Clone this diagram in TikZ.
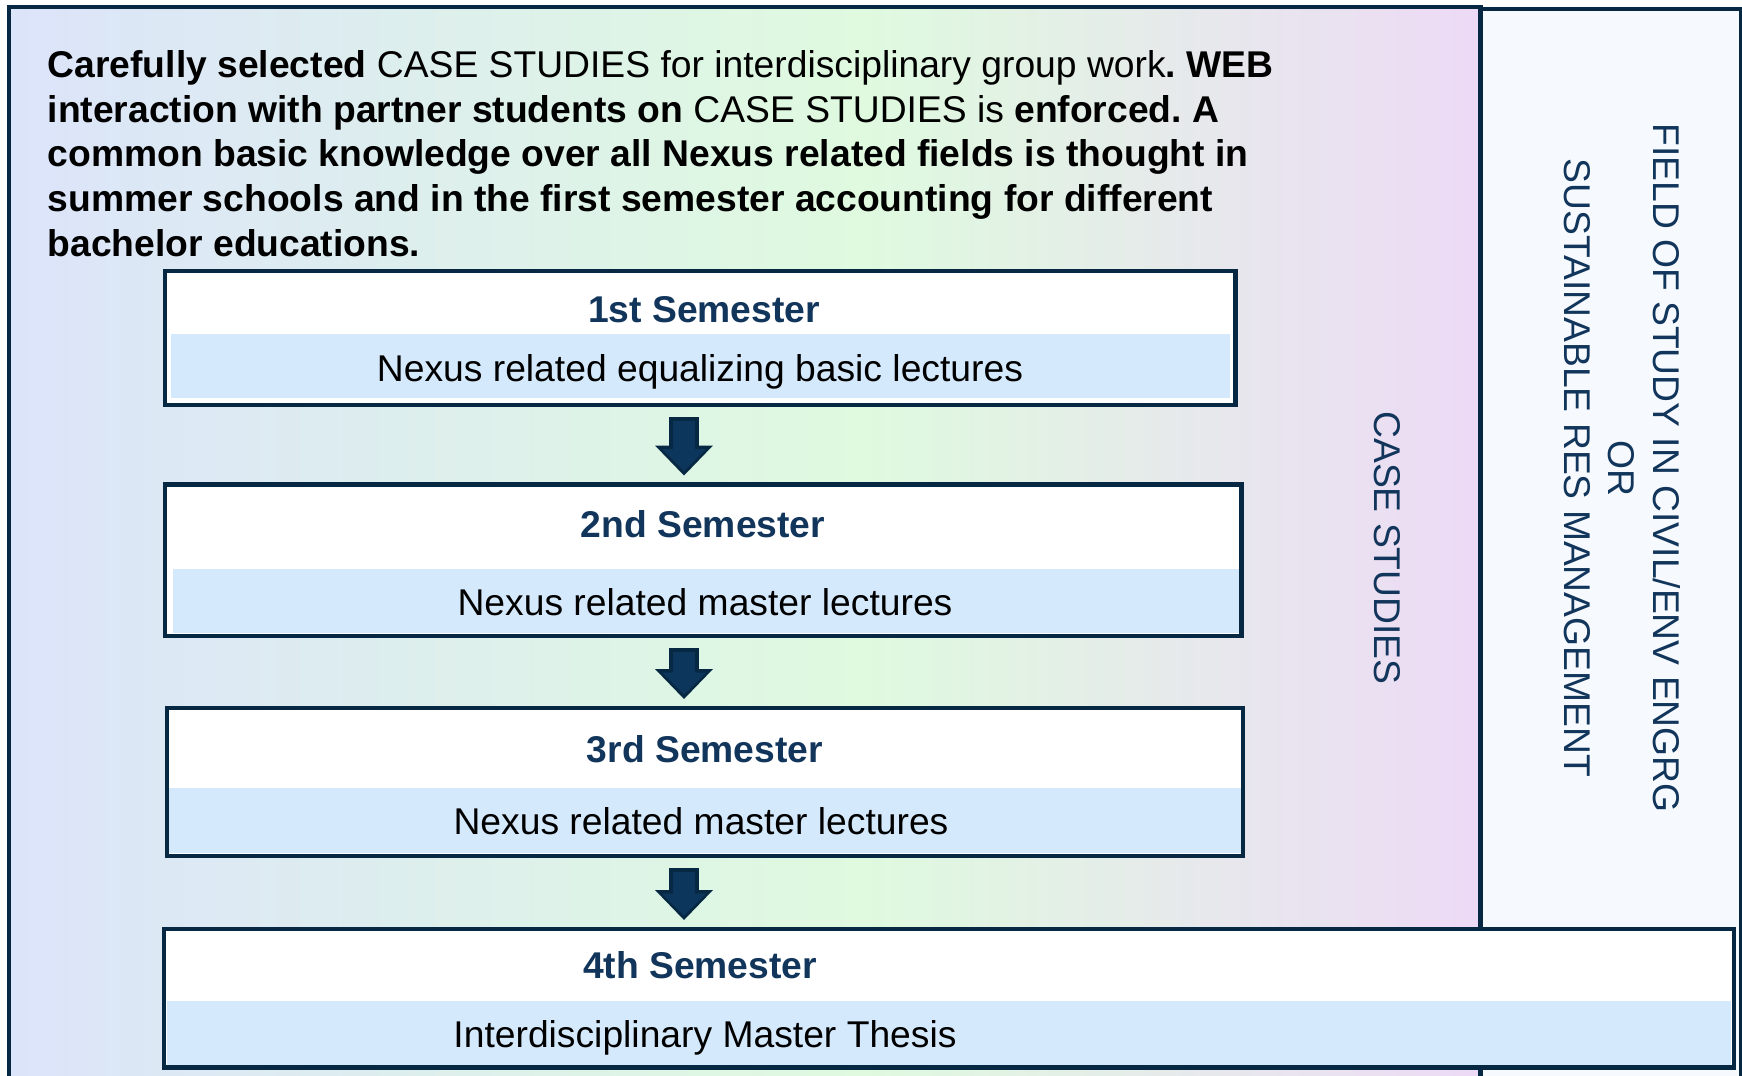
\documentclass[tikz,border=0pt]{standalone}
\usepackage{fontspec}
\setmainfont{Liberation Sans}
\usetikzlibrary{arrows.meta}
\frenchspacing
\definecolor{navyline}{HTML}{062843}
\definecolor{arrowfill}{HTML}{0D365C}
\definecolor{titleblue}{HTML}{12355B}
\definecolor{bandblue}{HTML}{D5E9FC}
\definecolor{fieldbg}{HTML}{F6FAFE}
\definecolor{gradleft}{HTML}{DCE4FA}
\definecolor{gradmid}{HTML}{DFFADF}
\definecolor{gradright}{HTML}{EDDAF6}
\pgfdeclarehorizontalshading{casebg}{100bp}{color(0bp)=(gradleft); color(25bp)=(gradleft); color(54bp)=(gradmid); color(75bp)=(gradright); color(100bp)=(gradright)}
\begin{document}
\begin{tikzpicture}[x=0.1mm, y=-0.1mm,
    every node/.style={font=\fontsize{10.6pt}{12.7pt}\selectfont},
    sembox/.style={rectangle, draw=navyline, line width=1.3pt, fill=white, inner sep=0pt, outer sep=0pt},
    semtitle/.style={anchor=base, inner sep=0pt, text=titleblue, font=\fontsize{10.6pt}{12.7pt}\selectfont\bfseries},
    semtext/.style={anchor=base, inner sep=0pt},
    sidetext/.style={rotate=-90, align=center, inner sep=0pt, text=titleblue},
    para/.style={anchor=base west, align=left, inner sep=0pt},
    flowarrow/.style={draw=navyline, line width=3mm, shorten <=1.2mm, shorten >=0.9mm,
        -{Triangle[width=5.8mm, length=3mm, line width=0pt]},
        postaction={draw=arrowfill, line width=2.2mm, shorten <=1.6mm, shorten >=1.35mm,
        -{Triangle[width=4.4mm, length=2.2mm, line width=0pt]}}}]

    \clip (0,0) rectangle (1742,1076);
    \fill [white] (0,0) rectangle (1742,1076);
    \filldraw [fill=fieldbg, draw=navyline, line width=1.3pt] (1480.5,9) rectangle (1741,1200);
    \shade [shading=casebg] (9,7) rectangle (1480.5,1200);
    \draw [navyline, line width=1.3pt] (9,7) rectangle (1480.5,1200);

    \node[para] (intro) at (47,256) {\textbf{Carefully selected} CASE STUDIES for interdisciplinary group work\textbf{. WEB}\\
        \textbf{interaction with partner students on} CASE STUDIES is \textbf{enforced. A}\\
        \textbf{common basic knowledge over all Nexus related fields is thought in}\\
        \textbf{summer schools and in the first semester accounting for different}\\
        \textbf{bachelor educations.}};

    \node[sidetext] (cases) at (1387,548) {CASE STUDIES};
    \node[sidetext] (field) at (1622,468) {FIELD OF STUDY IN CIVIL/ENV ENGRG\\OR\\SUSTAINABLE RES MANAGEMENT};

    \node[sembox, minimum width=107.05mm, minimum height=13.4mm] (s1) at (700.25,338) {};
    \fill [bandblue] (171,334) rectangle (1230,398);
    \node[semtitle] (t1) at (704,322) {1st Semester};
    \node[semtext] (l1) at (700,381) {Nexus related equalizing basic lectures};

    \node[sembox, minimum width=107.65mm, minimum height=15.15mm] (s2) at (703.25,560.25) {};
    \fill [bandblue] (173,569) rectangle (1239,633);
    \node[semtitle] (t2) at (703,537) {2nd Semester};
    \node[semtext] (l2) at (705,615) {Nexus related master lectures};

    \node[sembox, minimum width=107.6mm, minimum height=14.8mm] (s3) at (705,782) {};
    \fill [bandblue] (169,788) rectangle (1241,853);
    \node[semtitle] (t3) at (705,762) {3rd Semester};
    \node[semtext] (l3) at (701,834) {Nexus related master lectures};

    \node[sembox, minimum width=157mm, minimum height=13.85mm] (s4) at (949,998.25) {};
    \fill [bandblue] (167,1001) rectangle (1731,1065);
    \node[semtitle] (t4) at (700,978) {4th Semester};
    \node[semtext] (l4) at (705,1047) {Interdisciplinary Master Thesis};

    \coordinate (ax) at (684,0);
    \draw[flowarrow] (s1.south -| ax) -- (s2.north -| ax);
    \draw[flowarrow] (s2.south -| ax) -- (s3.north -| ax);
    \draw[flowarrow] (s3.south -| ax) -- (s4.north -| ax);
\end{tikzpicture}
\end{document}
